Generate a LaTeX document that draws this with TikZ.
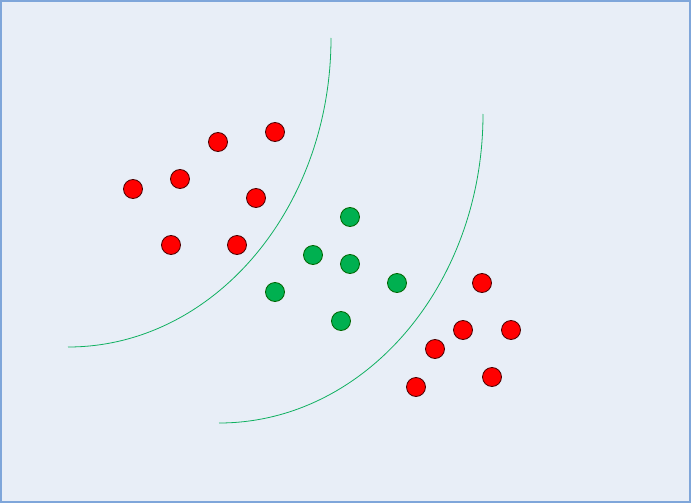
\documentclass[tikz,border=0pt]{standalone}
\begin{document}
\begin{tikzpicture}[x=1pt,y=-1pt,
  reddot/.style={circle,draw=black!70!red,fill=red,line width=0.8pt,minimum size=19pt,inner sep=0pt},
  greendot/.style={circle,draw=black!60!green,fill=greenfill,line width=0.8pt,minimum size=19pt,inner sep=0pt},
  sep/.style={draw=sepline,line width=0.8pt}]
\definecolor{bgfill}{HTML}{E8EEF7}
\definecolor{bframe}{HTML}{7FA6DA}
\definecolor{greenfill}{HTML}{00B050}
\definecolor{sepline}{HTML}{10B060}
\useasboundingbox (0,0) rectangle (691,503);
\fill[bgfill] (0,0) rectangle (691,503);
\draw[bframe,line width=2pt] (1,1) rectangle (690,502);
% separating arcs
\draw[sep] (331,38) arc[start angle=0,end angle=90,x radius=263,y radius=309];
\draw[sep] (483,114) arc[start angle=0,end angle=90,x radius=264,y radius=309];
% red cluster left
\node[reddot] (r1) at (218,142) {};
\node[reddot] (r2) at (275,132) {};
\node[reddot] (r3) at (133,189) {};
\node[reddot] (r4) at (180,179) {};
\node[reddot] (r5) at (256,198) {};
\node[reddot] (r6) at (171,245) {};
\node[reddot] (r7) at (237,245) {};
% green cluster
\node[greendot] (g1) at (350,217) {};
\node[greendot] (g2) at (313,255) {};
\node[greendot] (g3) at (350,264) {};
\node[greendot] (g4) at (397,283) {};
\node[greendot] (g5) at (275,292) {};
\node[greendot] (g6) at (341,321) {};
% red cluster right
\node[reddot] (s1) at (482,283) {};
\node[reddot] (s2) at (463,330) {};
\node[reddot] (s3) at (511,330) {};
\node[reddot] (s4) at (435,349) {};
\node[reddot] (s5) at (492,377) {};
\node[reddot] (s6) at (416,387) {};
\end{tikzpicture}
\end{document}
